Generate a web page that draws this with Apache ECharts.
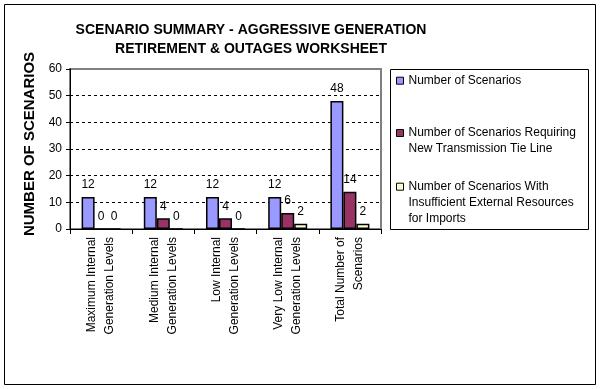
<!DOCTYPE html>
<html>
<head>
<meta charset="utf-8">
<script src="https://cdn.jsdelivr.net/npm/echarts@6/dist/echarts.min.js"></script>
<style>html,body{margin:0;padding:0;background:#fff}#c{width:600px;height:389px}</style>
</head>
<body>
<div id="c"></div>
<script>
const categories = ["Maximum Internal\nGeneration Levels", "Medium Internal\nGeneration Levels", "Low Internal\nGeneration Levels", "Very Low Internal\nGeneration Levels", "Total Number of\nScenarios"];
const seriesNames = ["Number of Scenarios", "Number of Scenarios Requiring New Transmission Tie Line", "Number of Scenarios With Insufficient External Resources for Imports"];
const scenarios = [12, 12, 12, 12, 48];
const tieLine = [0, 4, 4, 6, 14];
const insufficient = [0, 0, 0, 2, 2];
const yTicks = [0, 10, 20, 30, 40, 50, 60];

const FONT = "Liberation Sans";
const chart = echarts.init(document.getElementById('c'), null, {renderer: 'canvas'});
const labelCfg = {show: true, position: 'top', distance: 6, color: '#000', fontSize: 12, fontFamily: FONT};
const legendBase = {
  orient: 'vertical', left: 396, padding: 0, itemWidth: 7, itemHeight: 7, itemGap: 0,
  icon: 'rect', selectedMode: false,
  itemStyle: {borderColor: '#000', borderWidth: 1},
  textStyle: {fontSize: 12, fontFamily: FONT, color: '#000', lineHeight: 16}
};
const option = {
  animation: false,
  backgroundColor: '#fff',
  textStyle: {fontFamily: FONT},
  title: {
    text: 'SCENARIO SUMMARY - AGGRESSIVE GENERATION\nRETIREMENT & OUTAGES WORKSHEET',
    left: 251, top: 21, padding: 0, textAlign: 'center',
    textStyle: {fontSize: 14, fontWeight: 'bold', fontFamily: FONT, color: '#000', lineHeight: 19}
  },
  graphic: [
    {type: 'rect', shape: {x: 4.5, y: 4.5, width: 591, height: 380}, style: {fill: 'none', stroke: '#000', lineWidth: 1}, silent: true},
    {type: 'rect', shape: {x: 390.5, y: 69.5, width: 198, height: 160}, style: {fill: 'none', stroke: '#000', lineWidth: 1}, silent: true}
  ],
  legend: [
    Object.assign({}, legendBase, {top: 72.7, data: [seriesNames[0]], formatter: () => 'Number of Scenarios'}),
    Object.assign({}, legendBase, {top: 109, data: [seriesNames[1]], formatter: () => '\nNumber of Scenarios Requiring\nNew Transmission Tie Line'}),
    Object.assign({}, legendBase, {top: 146.7, data: [seriesNames[2]], formatter: () => '\n\nNumber of Scenarios With\nInsufficient External Resources\nfor Imports'})
  ],
  grid: {left: 70, right: 219, top: 69, bottom: 160, show: true, borderColor: '#808080', borderWidth: 2},
  xAxis: {
    type: 'category', data: categories,
    axisLine: {lineStyle: {color: '#000', width: 1}},
    axisTick: {show: true, length: 5, lineStyle: {color: '#000'}},
    axisLabel: {interval: 0, rotate: 90, fontSize: 12, fontFamily: FONT, color: '#000', lineHeight: 18, margin: 8}
  },
  yAxis: {
    type: 'value', min: yTicks[0], max: yTicks[yTicks.length - 1], interval: 10,
    name: 'NUMBER OF SCENARIOS', nameLocation: 'middle', nameGap: 25,
    nameTextStyle: {fontSize: 15, fontWeight: 'bold', fontFamily: FONT, color: '#000', padding: [0, 0, 0, 10]},
    axisLine: {show: true, lineStyle: {color: '#000', width: 1}},
    axisTick: {show: true, length: 4, lineStyle: {color: '#000'}},
    axisLabel: {fontSize: 12, fontFamily: FONT, color: '#000', margin: 8},
    splitLine: {show: true, lineStyle: {type: [3, 3], color: ['#000', '#000', '#000', '#000', '#000', '#000', 'transparent'], width: 1}}
  },
  series: [
    {name: seriesNames[0], type: 'bar', data: scenarios, barWidth: 13, barGap: '0%',
      itemStyle: {color: '#9999FF', borderColor: '#000', borderWidth: 1.5}, label: labelCfg},
    {name: seriesNames[1], type: 'bar', data: tieLine, barWidth: 13, barGap: '0%',
      itemStyle: {color: '#993366', borderColor: '#000', borderWidth: 1.5}, label: labelCfg},
    {name: seriesNames[2], type: 'bar', data: insufficient, barWidth: 13, barGap: '0%',
      itemStyle: {color: '#FFFFCC', borderColor: '#000', borderWidth: 1.5}, label: labelCfg}
  ]
};
chart.setOption(option);
</script>
</body>
</html>
